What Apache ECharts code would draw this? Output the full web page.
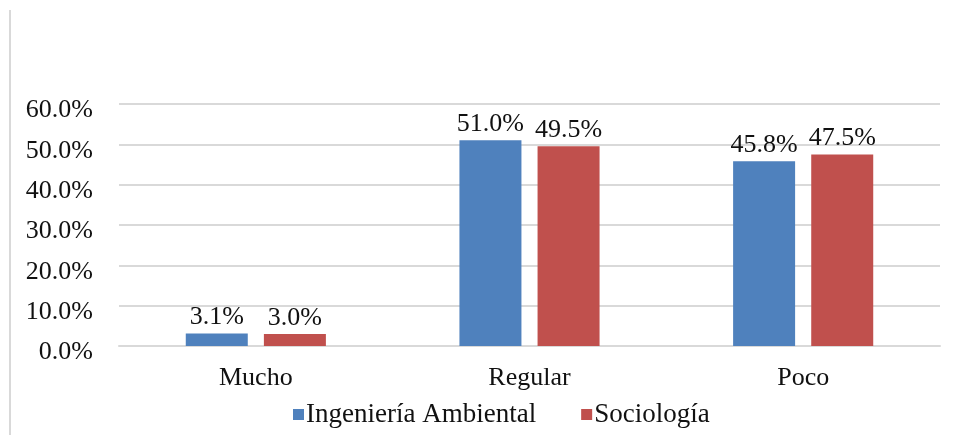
<!DOCTYPE html>
<html><head><meta charset="utf-8">
<script src="https://cdn.jsdelivr.net/npm/echarts@6/dist/echarts.min.js"></script>
<style>html,body{margin:0;padding:0;background:#fff}#c{width:957px;height:435px}</style>
</head><body><div id="c"></div>
<script>
const categories = ['Mucho', 'Regular', 'Poco'];
const ingenieriaAmbiental = [3.1, 51.0, 45.8];
const sociologia = [3.0, 49.5, 47.5];
const seriesNames = ['Ingeniería Ambiental', 'Sociología'];

const FONT = '"Liberation Serif", "Times New Roman", serif';
const chart = echarts.init(document.getElementById('c'));
const labelCfg = {
  show: true, position: 'top', distance: 3,
  fontFamily: FONT, fontSize: 26, color: '#111',
  formatter: p => p.value.toFixed(1) + '%'
};
chart.setOption({
  animation: false,
  backgroundColor: '#fff',
  graphic: [{
    type: 'line', shape: {x1: 10, y1: 10, x2: 10, y2: 435},
    style: {stroke: '#d9d9d9', lineWidth: 2}
  }],
  grid: {left: 119, right: 17, top: 104, bottom: 89, containLabel: false},
  legend: {
    left: 288, top: 396, itemWidth: 11, itemHeight: 11, itemGap: 45,
    icon: 'rect',
    textStyle: {fontFamily: FONT, fontSize: 27, color: '#111', padding: [0, 0, 0, -3]},
    data: seriesNames
  },
  xAxis: {
    type: 'category', data: categories,
    axisLine: {show: true, lineStyle: {color: '#d9d9d9', width: 2}},
    axisTick: {show: false},
    axisLabel: {fontFamily: FONT, fontSize: 26, color: '#111', margin: 19}
  },
  yAxis: {
    type: 'value', min: 0, max: 60, interval: 10,
    axisLine: {show: false}, axisTick: {show: false},
    splitLine: {lineStyle: {color: '#d9d9d9', width: 2}},
    axisLabel: {fontFamily: FONT, fontSize: 26, color: '#111', margin: 26,
      formatter: v => '{a|' + v.toFixed(1) + '%}',
      rich: {a: {fontFamily: FONT, fontSize: 26, color: '#111', padding: [13, 0, 0, 0]}}}
  },
  series: [
    {name: seriesNames[0], type: 'bar', data: ingenieriaAmbiental, barWidth: 62, barGap: '26%',
     itemStyle: {color: '#4F81BD'}, label: labelCfg},
    {name: seriesNames[1], type: 'bar', data: sociologia, barWidth: 62, barGap: '26%',
     itemStyle: {color: '#C0504D'}, label: labelCfg}
  ]
});
</script></body></html>
